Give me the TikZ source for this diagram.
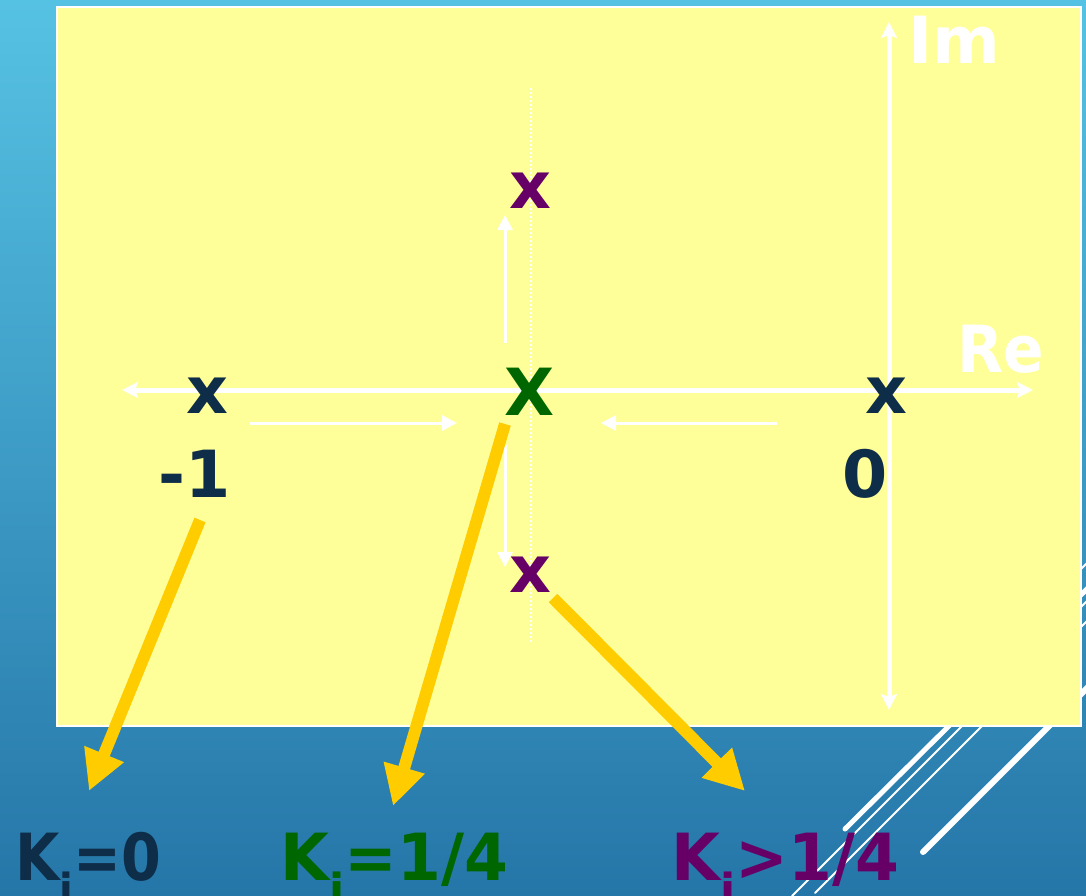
\documentclass[tikz,border=0pt]{standalone}
\usepackage{fontspec}
\setmainfont{DejaVu Sans}
\usetikzlibrary{arrows.meta}
\definecolor{bgtop}{RGB}{86,194,227}
\definecolor{bgbot}{RGB}{37,118,168}
\definecolor{paper}{RGB}{255,255,153}
\definecolor{navy}{RGB}{14,45,72}
\definecolor{dgreen}{RGB}{0,102,0}
\definecolor{purp}{RGB}{102,0,102}
\definecolor{gold}{RGB}{255,204,0}
\begin{document}
\begin{tikzpicture}[x=1pt,y=-1pt,
  big/.style={font=\fontsize{65}{70}\selectfont\bfseries, inner sep=0pt, anchor=base},
  axisline/.style={white, line width=5pt, {Stealth[length=16pt,width=16pt,inset=3pt]}-{Stealth[length=16pt,width=16pt,inset=3pt]}},
  thinarrow/.style={white, line width=3pt, -{Triangle[length=15pt,width=15pt]}},
  yarrow/.style={gold, line width=12pt, -{Triangle[length=40pt,width=40pt]}},
  deco/.style={white, line cap=round}]
\useasboundingbox (0,0) rectangle (1086,896);
% background
\shade[top color=bgtop, bottom color=bgbot] (0,0) rectangle (1086,896);
% decorative lines
\draw[deco, line width=5pt] (845,829) -- (1090,586);
\draw[deco, line width=2pt] (792,896) -- (1090,598);
\draw[deco, line width=2pt] (815,893) -- (1090,618);
\draw[deco, line width=2pt] (1000,650) -- (1090,560);
\draw[deco, line width=6pt] (923,852) -- (1090,685);
% panel
\draw[white, line width=2pt, fill=paper] (57,7) rectangle (1081,726);
% dotted guide
\draw[white, line width=1.3pt, dash pattern=on 2pt off 2pt] (531,88) -- (531,642);
% axes
\coordinate (reL) at (122,390);
\coordinate (reR) at (1033,390);
\coordinate (imT) at (889,22);
\coordinate (imB) at (889,710);
\draw[axisline] (reL) -- (reR);
\draw[axisline] (imB) -- (imT);
% small white arrows
\coordinate (h1s) at (250,423); \coordinate (h1e) at (457,423);
\coordinate (h2s) at (777,423); \coordinate (h2e) at (601,423);
\coordinate (v1s) at (505,343); \coordinate (v1e) at (505,215);
\coordinate (v2s) at (505,445); \coordinate (v2e) at (505,567);
\draw[thinarrow] (h1s) -- (h1e);
\draw[thinarrow] (h2s) -- (h2e);
\draw[thinarrow] (v1s) -- (v1e);
\draw[thinarrow] (v2s) -- (v2e);
% axis labels
\node[big, white, anchor=base west] (im) at (908,64) {Im};
\node[big, white, anchor=base west, xscale=0.92] (re) at (957,372) {Re};
% poles
\node[big, navy] (pm1) at (207,413) {x};
\node[big, navy] (p0) at (886,413) {x};
\node[big, navy] (lm1) at (195,497) {-1};
\node[big, navy] (l0) at (865,497) {0};
\node[big, dgreen] (pd) at (530,415) {X};
\node[big, purp] (pu) at (530,208) {x};
\node[big, purp] (pl) at (530,592) {x};
% bottom labels
\node[big, navy, anchor=base west, xscale=0.88] (k0) at (15,880) {K\textsubscript{j}=0};
\node[big, dgreen, anchor=base west, xscale=0.97] (k1) at (280,880) {K\textsubscript{j}=1/4};
\node[big, purp, anchor=base west, xscale=0.97] (k2) at (671,880) {K\textsubscript{j}>1/4};
% yellow arrows
\coordinate (y1s) at (200,520); \coordinate (y1e) at (89,791);
\coordinate (y2s) at (505,424); \coordinate (y2e) at (393,806);
\coordinate (y3s) at (553,598); \coordinate (y3e) at (745,791);
\draw[yarrow] (y1s) -- (y1e);
\draw[yarrow] (y2s) -- (y2e);
\draw[yarrow] (y3s) -- (y3e);
\end{tikzpicture}
\end{document}
